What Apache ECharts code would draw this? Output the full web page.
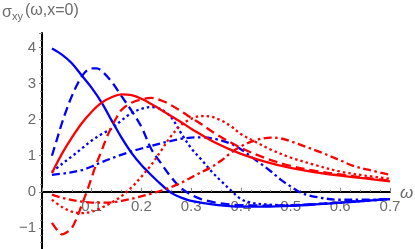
<!DOCTYPE html>
<html><head><meta charset="utf-8">
<script src="https://cdn.jsdelivr.net/npm/echarts@6/dist/echarts.min.js"></script>
<style>html,body{margin:0;padding:0;background:#fff}#c{width:415px;height:249px}</style>
</head><body><div id="c"></div>
<script>
// ---- data (omega, sigma_xy) ----
const blueSolid = [[0.02,3.97],[0.04,3.8],[0.06,3.56],[0.08,3.22],[0.1,2.88],[0.12,2.47],[0.14,1.98],[0.16,1.5],[0.18,1.08],[0.2,0.74],[0.22,0.46],[0.24,0.2],[0.26,-0.03],[0.28,-0.16],[0.3,-0.25],[0.35,-0.36],[0.4,-0.41],[0.45,-0.41],[0.5,-0.39],[0.55,-0.35],[0.6,-0.3],[0.65,-0.25],[0.7,-0.2]];
const blueDashed = [[0.02,1.0],[0.03,1.45],[0.04,1.9],[0.05,2.3],[0.06,2.65],[0.07,2.95],[0.08,3.2],[0.09,3.36],[0.1,3.42],[0.11,3.42],[0.12,3.35],[0.14,3.05],[0.16,2.65],[0.18,2.25],[0.2,1.8],[0.22,1.18],[0.24,0.78],[0.26,0.4],[0.28,0.1],[0.3,-0.08],[0.32,-0.2],[0.35,-0.3],[0.4,-0.37],[0.45,-0.38],[0.5,-0.37],[0.55,-0.34],[0.6,-0.3],[0.65,-0.25],[0.7,-0.2]];
const blueDotted = [[0.02,0.55],[0.04,0.77],[0.06,0.98],[0.08,1.2],[0.1,1.42],[0.12,1.6],[0.14,1.75],[0.16,1.98],[0.18,2.18],[0.2,2.3],[0.22,2.35],[0.24,2.28],[0.26,2.06],[0.28,1.62],[0.3,1.21],[0.32,0.9],[0.34,0.58],[0.36,0.3],[0.38,0.04],[0.4,-0.2],[0.42,-0.3],[0.45,-0.35],[0.5,-0.37],[0.55,-0.34],[0.6,-0.3],[0.65,-0.25],[0.7,-0.2]];
const blueDashDot = [[0.02,0.47],[0.05,0.52],[0.08,0.6],[0.1,0.7],[0.12,0.82],[0.15,0.98],[0.18,1.12],[0.2,1.2],[0.22,1.27],[0.25,1.38],[0.28,1.47],[0.3,1.5],[0.32,1.51],[0.35,1.46],[0.38,1.33],[0.4,1.18],[0.42,0.98],[0.44,0.78],[0.46,0.57],[0.48,0.34],[0.5,0.15],[0.52,-0.02],[0.55,-0.14],[0.6,-0.22],[0.65,-0.22],[0.7,-0.2]];
const redSolid = [[0.02,0.52],[0.04,1.05],[0.06,1.5],[0.08,1.9],[0.1,2.22],[0.12,2.47],[0.14,2.62],[0.16,2.7],[0.18,2.68],[0.2,2.58],[0.22,2.43],[0.25,2.18],[0.28,1.93],[0.3,1.75],[0.35,1.35],[0.4,1.05],[0.45,0.83],[0.5,0.66],[0.55,0.54],[0.6,0.45],[0.65,0.37],[0.7,0.29]];
const redDashed = [[0.02,-0.86],[0.03,-1.05],[0.04,-1.18],[0.05,-1.12],[0.06,-1.0],[0.07,-0.72],[0.08,-0.36],[0.09,0.0],[0.1,0.4],[0.11,0.8],[0.12,1.14],[0.13,1.5],[0.14,1.8],[0.15,2.06],[0.16,2.27],[0.18,2.47],[0.2,2.56],[0.22,2.6],[0.24,2.53],[0.26,2.4],[0.28,2.23],[0.3,2.05],[0.32,1.88],[0.35,1.6],[0.4,1.22],[0.45,0.93],[0.5,0.72],[0.55,0.58],[0.6,0.48],[0.65,0.39],[0.7,0.31]];
const redDotted = [[0.02,-0.22],[0.04,-0.42],[0.06,-0.55],[0.08,-0.59],[0.1,-0.55],[0.12,-0.44],[0.14,-0.3],[0.16,-0.12],[0.18,0.12],[0.2,0.42],[0.22,0.75],[0.24,1.15],[0.26,1.55],[0.28,1.85],[0.3,2.02],[0.32,2.1],[0.34,2.08],[0.36,1.98],[0.38,1.82],[0.4,1.6],[0.43,1.38],[0.46,1.17],[0.5,0.95],[0.55,0.74],[0.6,0.56],[0.65,0.45],[0.7,0.36]];
const redDashDot = [[0.02,-0.08],[0.05,-0.2],[0.08,-0.27],[0.1,-0.3],[0.13,-0.3],[0.16,-0.25],[0.19,-0.16],[0.22,-0.05],[0.25,0.08],[0.28,0.25],[0.31,0.47],[0.34,0.68],[0.36,0.86],[0.38,1.08],[0.4,1.26],[0.43,1.43],[0.46,1.5],[0.48,1.48],[0.5,1.4],[0.53,1.25],[0.56,1.1],[0.6,0.87],[0.63,0.7],[0.66,0.6],[0.7,0.47]];
const titleParts = ['σ', 'xy', '(ω,x=0)'];
const xName = 'ω';

const BLUE = '#0000ff', RED = '#ff0000', GRAY = '#6b6b6b';
const FONT = '"Liberation Sans", Arial, sans-serif';
const DASH = [9,5], DOT = [2.5,3], DASHDOT = [8,3.5,2.5,3.5];
const Y_MIN = -2, Y_MAX = 4.4, G_TOP = 33, G_H = 231;
const zeroOffset = -(G_H * (0 - Y_MIN) / (Y_MAX - Y_MIN)); // lift x axis to y = 0

function mk(data, color, type, z) {
  return { type:'line', data, showSymbol:false, smooth:0.35, z: z||2,
    lineStyle:{ color, width:2.3, type, cap:'butt' }, silent:true, animation:false };
}
const chart = echarts.init(document.getElementById('c'), null, {renderer:'canvas'});
chart.setOption({
  animation:false,
  grid:{ left:42, width:348, top:G_TOP, height:G_H, containLabel:false, outerBoundsMode:'none' },
  xAxis:{ type:'value', min:0, max:0.7, interval:0.1, position:'bottom', offset:zeroOffset,
    axisLine:{ onZero:false, lineStyle:{ color:'#000', width:2 } },
    axisTick:{ show:true, inside:true, length:4, lineStyle:{ color:'#888', width:1 } },
    minorTick:{ show:true, splitNumber:5, length:2, lineStyle:{ color:'#888', width:1 } },
    splitLine:{ show:false },
    axisLabel:{ color:GRAY, fontSize:15, fontFamily:FONT, margin:8,
      formatter:v => v < 1e-9 ? '' : (Math.round(v*10)/10).toFixed(1) } },
  yAxis:{ type:'value', min:Y_MIN, max:Y_MAX, interval:1,
    axisLine:{ onZero:false, lineStyle:{ color:'#000', width:2 } },
    axisTick:{ show:true, inside:false, length:3, lineStyle:{ color:'#888', width:1 } },
    minorTick:{ show:true, splitNumber:5, length:2, lineStyle:{ color:'#888', width:1 } },
    splitLine:{ show:false },
    axisLabel:{ color:GRAY, fontSize:15, fontFamily:FONT, margin:6,
      formatter:v => { if (Math.abs(v-Math.round(v))>1e-6) return ''; const r=Math.round(v); return r<0 ? '\u2212'+(-r) : String(r); } } },
  graphic:[
    { type:'text', left:2, top:5, style:{ text:titleParts[0], fill:GRAY, font:'16px '+FONT } },
    { type:'text', left:12, top:11, style:{ text:titleParts[1], fill:GRAY, font:'11px '+FONT } },
    { type:'text', left:25, top:3, style:{ text:titleParts[2], fill:GRAY, font:'16px '+FONT } },
    { type:'text', left:400, top:185, style:{ text:xName, fill:GRAY, font:'italic 17px '+FONT } }
  ],
  series:[
    mk(blueSolid, BLUE, 'solid'),
    mk(blueDashed, BLUE, DASH),
    mk(blueDotted, BLUE, DOT),
    mk(blueDashDot, BLUE, DASHDOT),
    mk(redSolid, RED, 'solid'),
    mk(redDashed, RED, DASH),
    mk(redDotted, RED, DOT),
    mk(redDashDot, RED, DASHDOT)
  ]
});
</script></body></html>
